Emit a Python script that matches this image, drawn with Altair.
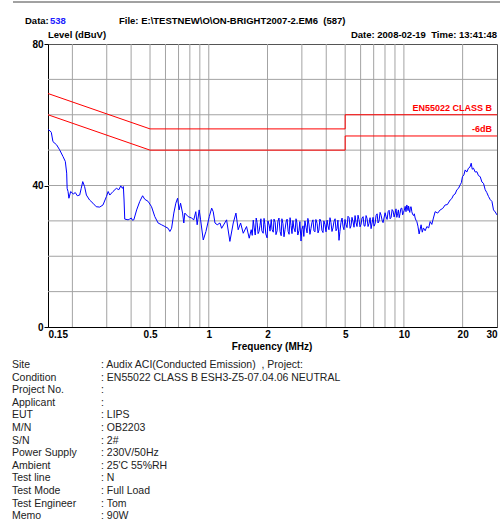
import altair as alt
import pandas as pd

# Conducted emission scan, neutral line (frequency in MHz, level in dBuV)
scan_freq = [
    0.150, 0.154, 0.156, 0.159, 0.166, 0.172, 0.179, 0.184, 0.187, 0.188,
    0.190, 0.192, 0.196, 0.202, 0.207, 0.212, 0.218, 0.222, 0.226, 0.231,
    0.236, 0.245, 0.255, 0.265, 0.276, 0.287, 0.299, 0.305, 0.311, 0.323,
    0.336, 0.346, 0.354, 0.361, 0.365, 0.368, 0.371, 0.386, 0.393, 0.401,
    0.406, 0.413, 0.427, 0.443, 0.458, 0.470, 0.489, 0.509, 0.529, 0.550,
    0.573, 0.596, 0.619, 0.632, 0.645, 0.662, 0.678, 0.692, 0.705, 0.717,
    0.734, 0.745, 0.754, 0.784, 0.816, 0.838, 0.858, 0.872, 0.893, 0.908,
    0.937, 0.967, 1.006, 1.035, 1.054, 1.076, 1.105, 1.141, 1.164, 1.234,
    1.283, 1.335, 1.378, 1.415, 1.456, 1.502, 1.562, 1.612,
    1.65, 1.69, 1.73, 1.77, 1.81, 1.85, 1.90, 1.94, 1.99, 2.04,
    2.09, 2.14, 2.19, 2.24, 2.29, 2.35, 2.40, 2.46, 2.52, 2.58,
    2.64, 2.70, 2.77, 2.83, 2.90, 2.97, 3.04, 3.11, 3.19, 3.26,
    3.34, 3.42, 3.50, 3.59, 3.67, 3.76, 3.85, 3.94, 4.04, 4.13,
    4.23, 4.33, 4.44, 4.54, 4.65, 4.76, 4.88, 4.99, 5.11, 5.24,
    5.36, 5.49, 5.62, 5.75, 5.89, 6.03, 6.18, 6.32, 6.48, 6.63,
    6.79, 6.95, 7.12, 7.29, 7.46, 7.64, 7.82,
    8.01, 8.20, 8.40, 8.60, 8.80, 9.02, 9.20, 9.37, 9.55, 9.76,
    9.95, 10.15, 10.35, 10.50, 10.64, 10.80, 10.98, 11.20, 11.42, 11.65,
    11.97, 12.25, 12.42, 12.59, 12.85, 13.11, 13.40, 13.63, 13.90, 14.17,
    14.46, 14.90, 15.34, 15.80, 16.27, 16.70, 17.26, 17.60, 17.95, 18.30,
    18.69, 19.05, 19.43, 19.70, 19.96, 20.30, 20.61, 21.00, 21.43, 21.80,
    22.13, 22.40, 22.73, 23.20, 23.67, 24.10, 24.61, 25.10, 25.59, 26.10,
    26.60, 27.14, 27.70, 28.26, 28.79, 29.40, 29.97,
]
scan_level = [
    55.8, 55.4, 55.0, 52.4, 51.5, 50.1, 48.2, 46.8, 43.5, 39.2,
    38.3, 36.4, 38.3, 37.6, 38.0, 37.1, 37.3, 39.2, 41.1, 39.7,
    37.3, 35.9, 35.0, 34.0, 33.9, 34.5, 36.9, 38.3, 37.3, 38.3,
    39.2, 38.8, 39.9, 39.2, 39.7, 35.9, 30.5, 30.3, 30.5, 30.8,
    30.2, 30.3, 33.1, 35.5, 37.1, 36.1, 35.5, 34.0, 31.2, 29.4,
    28.9, 28.4, 27.9, 27.0, 27.9, 32.2, 35.0, 36.4, 33.1, 35.0,
    32.2, 29.4, 32.2, 31.2, 30.8, 30.3, 32.6, 28.9, 33.1, 30.3,
    24.6, 27.0, 31.2, 33.6, 32.6, 29.4, 28.9, 29.4, 27.9, 30.3,
    24.2, 29.4, 32.2, 27.5, 29.4, 26.5, 28.4, 25.1,
    27.5, 30.2, 26.0, 29.5, 27.0, 30.6, 26.5, 29.0, 25.2, 28.8,
    30.4, 26.8, 29.6, 27.2, 30.8, 25.8, 29.2, 27.6, 30.5, 26.2,
    28.7, 30.1, 26.9, 29.4, 27.3, 24.3, 28.6, 30.0, 26.6, 29.1,
    27.8, 30.3, 26.9, 29.3, 27.4, 29.8, 26.7, 28.9, 30.2, 27.5,
    29.5, 28.0, 30.6, 27.8, 24.5, 29.6, 28.3, 30.4, 28.1, 30.9,
    28.6, 29.7, 31.5, 28.4, 30.3, 29.0, 31.2, 28.5, 30.6, 29.3,
    27.8, 31.0, 29.2, 32.0, 30.0, 31.6, 29.5,
    32.3, 30.4, 33.0, 31.0, 32.8, 32.2, 31.0, 33.1, 32.0, 33.6,
    32.4, 34.1, 34.5, 32.9, 33.1, 33.9, 32.6, 31.5, 30.8, 29.8,
    26.3, 28.9, 26.8, 28.0, 27.2, 28.4, 28.0, 29.8, 29.0, 30.8,
    32.6, 32.2, 33.1, 33.5, 34.5, 34.6, 35.9, 36.3, 37.3, 37.6,
    38.8, 39.2, 40.2, 40.8, 42.5, 43.0, 44.4, 43.8, 44.9, 45.2,
    46.3, 44.6, 44.9, 43.8, 43.9, 42.8, 42.5, 41.0, 40.6, 38.8,
    38.0, 36.9, 36.0, 35.5, 33.1, 32.5, 31.7,
]

# Additional sweep points in the dense 1.6-12 MHz band
fine_freq = [
    1.67, 1.71, 1.75, 1.79, 1.83, 1.87, 1.92, 1.96, 2.01, 2.06,
    2.11, 2.16, 2.21, 2.26, 2.32, 2.37, 2.43, 2.49, 2.55, 2.61,
    2.67, 2.73, 2.80, 2.86, 2.93, 3.00, 3.07, 3.15, 3.22, 3.30,
    3.38, 3.46, 3.54, 3.63, 3.71, 3.80, 3.89, 3.99, 4.08, 4.18,
    4.28, 4.38, 4.49, 4.59, 4.70, 4.82, 4.93, 5.05, 5.17, 5.30,
    5.42, 5.55, 5.68, 5.82, 5.96, 6.10, 6.25, 6.40, 6.55, 6.71,
    6.87, 7.03, 7.20, 7.37, 7.55, 7.73,
    8.10, 8.30, 8.50, 8.70, 8.91, 9.11, 9.28, 9.46, 9.65, 9.85,
    10.05, 10.25, 10.43, 10.57, 10.72, 10.89, 11.09, 11.31, 11.53, 11.80,
]
fine_level = [
    25.9, 28.0, 30.8, 26.4, 28.7, 27.2, 30.7, 26.3, 30.0, 27.1,
    27.6, 30.5, 26.1, 29.9, 27.0, 30.6, 25.5, 29.7, 27.0, 30.9,
    26.4, 28.0, 30.6, 26.0, 29.8, 27.6, 25.6, 28.2, 30.7, 26.2,
    29.6, 27.2, 30.4, 26.6, 30.5, 27.3, 30.0, 26.9, 28.6, 30.9,
    27.0, 29.8, 27.2, 30.2, 27.0, 30.8, 27.5, 29.0, 31.3, 27.9,
    31.0, 28.2, 29.6, 31.6, 28.3, 30.8, 28.6, 31.5, 28.4, 30.9,
    29.4, 28.5, 31.5, 29.4, 32.4, 30.2,
    31.2, 32.6, 30.6, 33.2, 31.1, 33.4, 32.0, 30.9, 33.5, 31.7,
    33.0, 32.6, 33.8, 34.2, 32.4, 34.0, 31.8, 32.0, 30.2, 28.5,
]

# EN55022 class B limit and the -6 dB margin line
limit_freq = [0.15, 0.5, 5, 5, 30]
limit_class_b = [66, 56, 56, 60, 60]
limit_margin = [60, 50, 50, 54, 54]

# Grid and tick positions
grid_freq = [0.2, 0.3, 0.4, 0.5, 0.6, 0.7, 0.8, 0.9,
             1, 2, 3, 4, 5, 6, 7, 8, 9, 10, 20]
grid_level = [10, 20, 30, 40, 50, 60, 70]
freq_ticks = [0.15, 0.5, 1, 2, 5, 10, 20, 30]
level_ticks = [0, 40, 80]

# Test record
info_labels = ["Site", "Condition", "Project No.", "Applicant", "EUT", "M/N",
               "S/N", "Power Supply", "Ambient", "Test line", "Test Mode",
               "Test Engineer", "Memo"]
info_values = [": Audix ACI(Conducted Emission)\u00a0\u00a0, Project:",
               ": EN55022 CLASS B ESH3-Z5-07.04.06 NEUTRAL",
               ":", ":", ": LIPS", ": OB2203", ": 2#", ": 230V/50Hz",
               ": 25'C 55%RH", ": N", ": Full Load", ": Tom", ": 90W"]

FONT = "Liberation Sans, Arial, sans-serif"

x_scale = alt.Scale(type="log", domain=[0.15, 30], nice=False)
y_scale = alt.Scale(domain=[0, 80], nice=False, zero=False)

x_axis = alt.Axis(values=freq_ticks, format="~g", title=None, grid=False,
                  ticks=False, labelPadding=2, labelFontSize=10,
                  labelFontWeight="bold", labelColor="black", labelFlush=True,
                  domainColor="black", labelFont=FONT)
y_axis = alt.Axis(values=level_ticks, title=None, grid=False, tickSize=4,
                  tickColor="black", labelPadding=1, labelFontSize=10,
                  labelFontWeight="bold", labelColor="black",
                  domainColor="black", labelFont=FONT)


def xenc(field):
    return alt.X(field, type="quantitative", scale=x_scale, axis=x_axis)


def yenc(field):
    return alt.Y(field, type="quantitative", scale=y_scale, axis=y_axis)


scan_df = pd.concat([
    pd.DataFrame({"freq": scan_freq, "level": scan_level}),
    pd.DataFrame({"freq": fine_freq, "level": fine_level}),
]).sort_values("freq").reset_index(drop=True)

limit_df = pd.DataFrame({
    "freq": limit_freq * 2,
    "level": limit_class_b + limit_margin,
    "line": ["EN55022 CLASS B"] * 5 + ["-6dB"] * 5,
    "step": list(range(5)) * 2,
})
gridx_df = pd.DataFrame({"freq": grid_freq})
gridy_df = pd.DataFrame({"level": grid_level})

grid_v = alt.Chart(gridx_df).mark_rule(color="#a3a3a3", strokeWidth=1).encode(
    x=xenc("freq"))
grid_h = alt.Chart(gridy_df).mark_rule(color="#a3a3a3", strokeWidth=1).encode(
    y=yenc("level"))

limits = alt.Chart(limit_df).mark_line(color="#ff0000", strokeWidth=1).encode(
    x=xenc("freq"), y=yenc("level"), detail="line:N", order="step:Q")

scan = alt.Chart(scan_df).mark_line(color="#0000ff", strokeWidth=1).encode(
    x=xenc("freq"), y=yenc("level"))

limit_labels = alt.Chart(pd.DataFrame({
    "name": ["EN55022 CLASS B", "-6dB"], "level": [60, 54]})).mark_text(
    align="right", baseline="bottom", dy=-1.5, fontSize=9, fontWeight="bold",
    color="#ff0000", font=FONT).encode(
    x=alt.value(444), y=yenc("level"), text="name:N")


def label(text, x, y, align="left", color="black", size=9.5, weight="bold"):
    return alt.Chart().mark_text(
        align=align, baseline="middle", fontSize=size, fontWeight=weight,
        color=color, font=FONT).encode(
        x=alt.value(x), y=alt.value(y), text=alt.value(text))


header = [
    label("Data:", -23, -23.5),
    label("538", 2, -23.5, color="#2020ff"),
    label("File: E:\\TESTNEW\\O\\ON-BRIGHT2007-2.EM6\u00a0\u00a0(587)", 71, -23.5),
    label("Level (dBuV)", 0, -9),
    label("Date: 2008-02-19\u00a0\u00a0Time: 13:41:48", 449, -9, align="right"),
    label("Frequency (MHz)", 224, 302.5, align="center", size=10),
]

info_left = alt.Chart().mark_text(
    align="left", baseline="top", fontSize=10.5, lineHeight=12.6,
    color="#222222", font=FONT).encode(
    x=alt.value(-36), y=alt.value(316), text=alt.value(info_labels))
info_right = alt.Chart().mark_text(
    align="left", baseline="top", fontSize=10.5, lineHeight=12.6,
    color="#222222", font=FONT).encode(
    x=alt.value(53), y=alt.value(316), text=alt.value(info_values))

top_rule = alt.Chart().mark_rule(color="#444444", strokeWidth=1).encode(
    x=alt.value(-35), x2=alt.value(452), y=alt.value(-42))

chart = alt.layer(
    grid_v, grid_h, limits, scan, limit_labels, *header, info_left, info_right,
    top_rule,
).properties(
    width=449, height=283,
    padding={"left": 48, "top": 44, "right": 5, "bottom": 199},
    autosize=alt.AutoSizeParams(type="none"),
    background="white",
).configure_view(stroke="#555555", strokeWidth=1)

chart.save("out.html", embed_options={"renderer": "svg", "actions": False})
